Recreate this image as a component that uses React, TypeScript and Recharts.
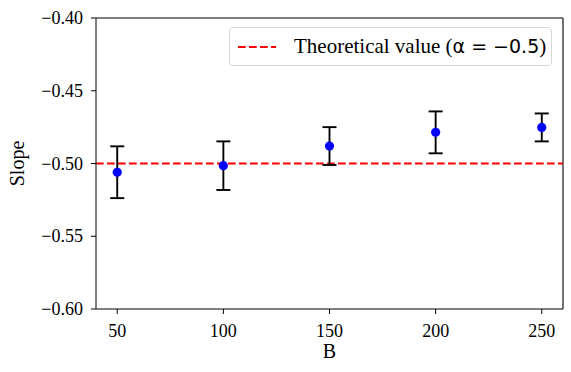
import React from 'react';
import {
  ComposedChart,
  Scatter,
  ErrorBar,
  XAxis,
  YAxis,
  ReferenceLine,
} from 'recharts';

// B values and fitted slopes with their standard errors
const bValues = [50, 100, 150, 200, 250];
const slopes = [-0.506, -0.5015, -0.488, -0.4786, -0.4752];
const slopeErrors = [0.0178, 0.0167, 0.013, 0.0144, 0.0096];

const theoreticalSlope = -0.5;
const xTicks = [50, 100, 150, 200, 250];
const yTicks = [-0.6, -0.55, -0.5, -0.45, -0.4];

const data = bValues.map((b, i) => ({ B: b, slope: slopes[i], err: slopeErrors[i] }));

const SERIF = '"Liberation Serif", "Times New Roman", serif';
const SANS = '"DejaVu Sans", sans-serif';

const fmtY = (v: number) => v.toFixed(2).replace('-', '\u2212');

const Dot = (props: any) => <circle cx={props.cx} cy={props.cy} r={4.6} fill="#0000ff" />;

const XTick = ({ x, y, payload }: any) => (
  <text x={x} y={y + 16} textAnchor="middle" fontSize={18} fontFamily={SERIF} fill="#000">
    {payload.value}
  </text>
);

const YTick = ({ x, y, payload }: any) => (
  <text x={x} y={y + 6} textAnchor="end" fontSize={18} fontFamily={SERIF} fill="#000">
    {fmtY(payload.value)}
  </text>
);

export default function App() {
  return (
    <div style={{ position: 'absolute', left: 0, top: 0, width: 571, height: 372, background: '#fff', fontFamily: SERIF }}>
      <ComposedChart
        width={571}
        height={372}
        data={data}
        margin={{ top: 18, right: 8, bottom: 33, left: 0 }}
      >
        <XAxis
          dataKey="B"
          type="number"
          domain={[40, 260]}
          ticks={xTicks}
          allowDataOverflow
          height={30}
          stroke="#000"
          tickSize={5}
          tickMargin={7}
          tick={XTick}
          label={({ viewBox }: any) => (
            <text
              x={viewBox.x + viewBox.width / 2}
              y={358}
              textAnchor="middle"
              fontSize={20}
              fontFamily={SERIF}
              fill="#000"
            >
              B
            </text>
          )}
        />
        <YAxis
          type="number"
          domain={[-0.6, -0.4]}
          ticks={yTicks}
          allowDataOverflow
          width={96}
          stroke="#000"
          tickSize={5}
          tickMargin={8}
          tick={YTick}
          label={({ viewBox }: any) => {
            const cy = viewBox.y + viewBox.height / 2;
            return (
              <text
                x={24}
                y={cy}
                transform={`rotate(-90 24 ${cy})`}
                textAnchor="middle"
                fontSize={20}
                fontFamily={SERIF}
                fill="#000"
              >
                Slope
              </text>
            );
          }}
        />
        <ReferenceLine y={-0.4} stroke="#000" strokeWidth={1.1} />
        <ReferenceLine x={260} stroke="#000" strokeWidth={1.1} />
        <ReferenceLine
          y={theoreticalSlope}
          stroke="#ff0000"
          strokeWidth={2}
          strokeDasharray="7.7 3.3"
        />
        <Scatter dataKey="slope" shape={Dot} isAnimationActive={false}>
          <ErrorBar
            dataKey="err"
            direction="y"
            width={7}
            stroke="#000"
            strokeWidth={1.9}
            isAnimationActive={false}
          />
        </Scatter>
      </ComposedChart>

      {/* Legend */}
      <div
        style={{
          position: 'absolute',
          left: 229,
          top: 27,
          width: 323,
          height: 39,
          boxSizing: 'border-box',
          border: '1px solid #d6d6d6',
          borderRadius: 4,
          background: 'rgba(255,255,255,0.8)',
          display: 'flex',
          alignItems: 'center',
        }}
      >
        <svg width={48} height={10} style={{ marginLeft: 7 }}>
          <line x1={1} y1={5} x2={39} y2={5} stroke="#ff0000" strokeWidth={2} strokeDasharray="7.7 3.3" />
        </svg>
        <span style={{ fontFamily: SERIF, fontSize: 21, color: '#000', whiteSpace: 'nowrap', marginLeft: 9 }}>
          Theoretical value (
          <span style={{ fontFamily: SANS, fontSize: 19 }}>{'\u03b1 = \u22120.5'}</span>)
        </span>
      </div>
    </div>
  );
}
